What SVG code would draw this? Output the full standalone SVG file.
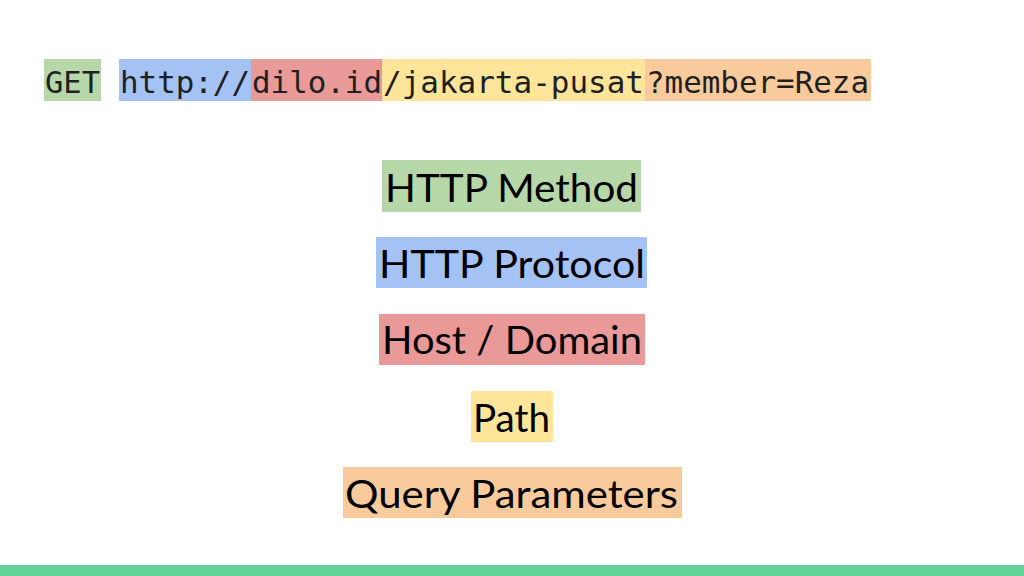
<svg xmlns="http://www.w3.org/2000/svg" width="1024" height="576" viewBox="0 0 1024 576">
<style>
.code{font-family:"DejaVu Sans Mono","Liberation Mono",monospace;font-size:30px;fill:#1f1f1f}
.lbl{font-family:Lato,"Noto Sans","Liberation Sans",sans-serif;font-size:39px;fill:#000;text-anchor:start}
.g{fill:#b6d7a8}.b{fill:#a4c2f4}.r{fill:#ea9999}.y{fill:#ffe599}.o{fill:#f9cb9c}
</style>
<rect width="1024" height="576" fill="#fff"/>
<g id="url">
<rect class="g" x="44" y="59" width="57" height="42"/>
<rect class="b" x="119" y="59" width="132" height="42"/>
<rect class="r" x="251" y="59" width="131" height="42"/>
<rect class="y" x="382" y="59" width="263" height="42"/>
<rect class="o" x="645" y="59" width="226" height="42"/>
<text class="code" x="45" y="93" textLength="55" lengthAdjust="spacingAndGlyphs">GET</text>
<text class="code" x="120" y="93" textLength="130" lengthAdjust="spacingAndGlyphs">http://</text>
<text class="code" x="252" y="93" textLength="130" lengthAdjust="spacingAndGlyphs">dilo.id</text>
<text class="code" x="383" y="93" textLength="261" lengthAdjust="spacingAndGlyphs">/jakarta-pusat</text>
<text class="code" x="646" y="93" textLength="223" lengthAdjust="spacingAndGlyphs">?member=Reza</text>
</g>
<g id="method">
<rect class="g" x="382" y="160" width="259" height="52"/>
<text class="lbl" x="385" y="202" textLength="253" lengthAdjust="spacingAndGlyphs">HTTP Method</text>
</g>
<g id="protocol">
<rect class="b" x="376" y="237" width="271" height="51"/>
<text class="lbl" x="379" y="278" textLength="266" lengthAdjust="spacingAndGlyphs">HTTP Protocol</text>
</g>
<g id="host">
<rect class="r" x="379" y="314" width="266" height="51"/>
<text class="lbl" x="382" y="354" textLength="260" lengthAdjust="spacingAndGlyphs">Host / Domain</text>
</g>
<g id="path">
<rect class="y" x="471" y="391" width="82" height="51"/>
<text class="lbl" x="473" y="432" textLength="77" lengthAdjust="spacingAndGlyphs">Path</text>
</g>
<g id="query">
<rect class="o" x="343" y="467" width="339" height="51"/>
<text class="lbl" x="345" y="508" textLength="333" lengthAdjust="spacingAndGlyphs">Query Parameters</text>
</g>
<g id="connectors"></g>
<rect x="0" y="565" width="1024" height="11" fill="#63d297"/>
</svg>
